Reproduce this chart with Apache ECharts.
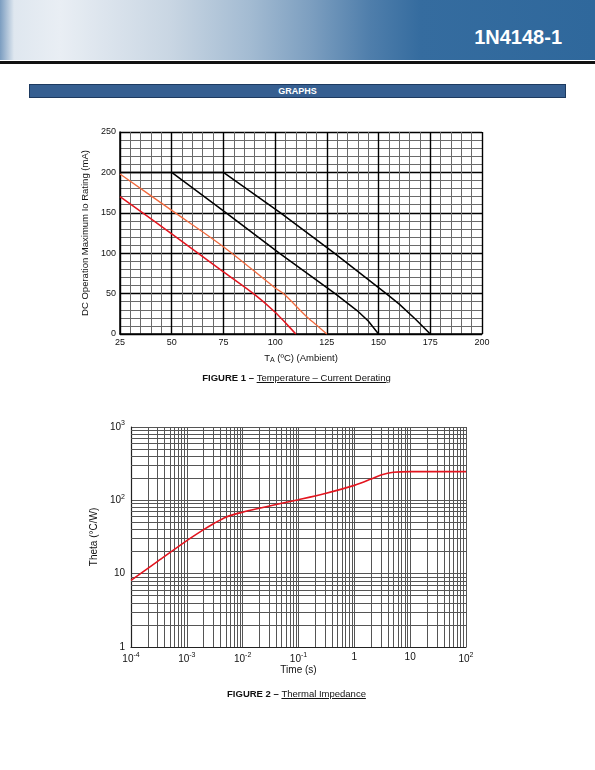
<!DOCTYPE html>
<html>
<head>
<meta charset="utf-8">
<script src="https://cdn.jsdelivr.net/npm/echarts@6/dist/echarts.min.js"></script>
<style>
  html, body { margin: 0; padding: 0; background: #fff; }
  body { width: 595px; height: 770px; position: relative; overflow: hidden;
         font-family: "Liberation Sans", Arial, sans-serif; }
  #head { position: absolute; left: 0; top: 0; width: 595px; height: 60px;
          background: linear-gradient(90deg, #7b9dc0 0px, #dfe7ef 14px, #e9eef4 60px, #c9d6e3 170px,
                      #a3bbd2 250px, #7d9fc0 310px, #4f7eab 370px, #356c9f 420px, #2f689c 595px); }
  #head .title { position: absolute; right: 33px; top: 26px; color: #fff; font-weight: bold;
                 font-size: 20px; letter-spacing: 0px; }
  #rule { position: absolute; left: 0; top: 61px; width: 595px; height: 3px; background: #111; }
  #bar { position: absolute; left: 29px; top: 84px; width: 535px; height: 12px;
         background: #365f91; border: 1px solid #1d3a60; color: #fff; font-weight: bold;
         font-size: 9px; line-height: 13px; text-align: center; }
  .cap { position: absolute; left: 0; width: 595px; text-align: center; font-size: 9.5px; color: #111; }
  .cap b { font-weight: bold; }
  .cap u { text-decoration: underline; }
  #chart { position: absolute; left: 0; top: 0; width: 595px; height: 770px; }
</style>
</head>
<body>
<div id="head"><div class="title">1N4148-1</div></div>
<div id="rule"></div>
<div id="bar">GRAPHS</div>
<div id="chart"></div>
<div class="cap" style="top:372px; left:-1px;"><b>FIGURE 1 – </b><u>Temperature – Current Derating</u></div>
<div class="cap" style="top:688px; left:-1px;"><b>FIGURE 2 – </b><u>Thermal Impedance</u></div>
<script>
// Figure 1: derating curves [T ambient, mA]
var curveA = [[25, 200], [75, 200], [102.6, 150], [128.6, 100], [153.7, 50], [160, 37], [168, 18], [175, 0]];
var curveB = [[50, 200], [76.3, 150], [102, 100], [129, 50], [139.6, 29], [145, 16], [150, 0]];
var curveOrange = [[25, 198], [50, 153], [75, 108], [100, 57], [104, 50], [115, 22], [120, 11], [125, 0]];
var curveRed = [[25, 170], [50, 124], [75, 77], [90, 49], [100, 27], [106, 11], [110, 0]];

// Figure 2: thermal impedance [time s, theta C/W]
var thetaTime = [1e-4, 3e-4, 1e-3, 2e-3, 3e-3, 5e-3, 1e-2, 2e-2, 5e-2, 1e-1, 3e-1, 1, 2, 3, 5, 10, 100];
var thetaVal = [8.1, 14.7, 28.2, 39.8, 48, 59, 69, 78, 91, 102, 124, 160, 195, 221, 241, 246, 246];

// log grid helpers
var xDecades = [1e-4, 1e-3, 1e-2, 1e-1, 1, 10];
var yDecades = [1, 10, 100];
var minorSteps = [2, 3, 4, 5, 6, 7, 8, 9];
var xRange = [1e-4, 100];
var yRange = [1, 1000];

var FONT = '"Liberation Sans", Arial, sans-serif';

// minor gridlines of the log plot, as segments in data space
function minorGrid() {
  var out = [];
  xDecades.forEach(function (d) {
    minorSteps.forEach(function (m) {
      var v = +(d * m).toPrecision(6);
      out.push({ coords: [[v, yRange[0]], [v, yRange[1]]] });
    });
  });
  yDecades.forEach(function (d) {
    minorSteps.forEach(function (m) {
      var v = d * m;
      out.push({ coords: [[xRange[0], v], [xRange[1], v]] });
    });
  });
  return out;
}

function logLabel(v) {
  var e = Math.round(Math.log10(v));
  if (e === 0) return '1';
  if (e === 1) return '10';
  return '10{sup|' + e + '}';
}

var chart = echarts.init(document.getElementById('chart'), null, { renderer: 'canvas' });

chart.setOption({
  animation: false,
  backgroundColor: 'transparent',
  grid: [
    { left: 120, top: 132, width: 362, height: 202, containLabel: false },
    { left: 131, top: 427, width: 335, height: 220, containLabel: false }
  ],
  xAxis: [
    {
      gridIndex: 0, type: 'value', min: 25, max: 200, interval: 25,
      name: 'T{sub|A} (ºC) (Ambient)', nameLocation: 'middle', nameGap: 18,
      nameTextStyle: { fontFamily: FONT, fontSize: 9.5, color: '#111',
        rich: { sub: { fontSize: 7, fontFamily: FONT, color: '#111', padding: [5, 0, 0, 0] } } },
      axisLine: { show: true, lineStyle: { color: '#000', width: 1.5 } },
      axisTick: { show: false },
      axisLabel: { fontFamily: FONT, fontSize: 9, color: '#111', margin: 4 },
      splitLine: { show: true, lineStyle: { color: '#000', width: 1.4 } },
      minorTick: { show: false, splitNumber: 5 },
      minorSplitLine: { show: true, lineStyle: { color: '#6a6a6a', width: 1 } }
    },
    {
      gridIndex: 1, type: 'log', logBase: 10, min: xRange[0], max: xRange[1],
      name: 'Time (s)', nameLocation: 'middle', nameGap: 18,
      nameTextStyle: { fontFamily: FONT, fontSize: 10, color: '#111' },
      axisLine: { show: true, lineStyle: { color: '#222', width: 1.2 } },
      axisTick: { show: false },
      axisLabel: {
        fontFamily: FONT, fontSize: 10, color: '#111', margin: 5,
        formatter: logLabel,
        rich: { sup: { fontSize: 7, fontFamily: FONT, color: '#111', padding: [0, 0, 7, 0] } }
      },
      splitLine: { show: true, lineStyle: { color: '#555', width: 1 } }
    }
  ],
  yAxis: [
    {
      gridIndex: 0, type: 'value', min: 0, max: 250, interval: 50,
      name: 'DC Operation Maximum Io Rating (mA)', nameLocation: 'middle', nameGap: 27,
      nameTextStyle: { fontFamily: FONT, fontSize: 9.5, color: '#111' },
      axisLine: { show: true, lineStyle: { color: '#000', width: 1.5 } },
      axisTick: { show: false },
      axisLabel: { fontFamily: FONT, fontSize: 9, color: '#111', margin: 4 },
      splitLine: { show: true, lineStyle: { color: '#000', width: 1.4 } },
      minorTick: { show: false, splitNumber: 5 },
      minorSplitLine: { show: true, lineStyle: { color: '#6a6a6a', width: 1 } }
    },
    {
      gridIndex: 1, type: 'log', logBase: 10, min: yRange[0], max: yRange[1],
      name: 'Theta (°C/W)', nameLocation: 'middle', nameGap: 29,
      nameTextStyle: { fontFamily: FONT, fontSize: 10, color: '#111' },
      axisLine: { show: true, lineStyle: { color: '#222', width: 1.2 } },
      axisTick: { show: false },
      axisLabel: {
        fontFamily: FONT, fontSize: 10, color: '#111', margin: 6,
        formatter: logLabel,
        rich: { sup: { fontSize: 7, fontFamily: FONT, color: '#111', padding: [0, 0, 7, 0] } }
      },
      splitLine: { show: true, lineStyle: { color: '#555', width: 1 } }
    }
  ],
  series: [
    {
      type: 'lines', coordinateSystem: 'cartesian2d', xAxisIndex: 1, yAxisIndex: 1,
      silent: true, polyline: false, z: 1,
      lineStyle: { color: '#555', width: 1, opacity: 1 },
      data: minorGrid()
    },
    { type: 'line', xAxisIndex: 0, yAxisIndex: 0, data: curveA, symbol: 'none',
      lineStyle: { color: '#000', width: 1.5 }, z: 5 },
    { type: 'line', xAxisIndex: 0, yAxisIndex: 0, data: curveB, symbol: 'none',
      lineStyle: { color: '#000', width: 1.5 }, z: 5 },
    { type: 'line', xAxisIndex: 0, yAxisIndex: 0, data: curveOrange, symbol: 'none',
      smooth: 0.3, lineStyle: { color: '#f26a3d', width: 1.3 }, z: 5 },
    { type: 'line', xAxisIndex: 0, yAxisIndex: 0, data: curveRed, symbol: 'none',
      smooth: 0.3, lineStyle: { color: '#e3151f', width: 1.5 }, z: 5 },
    { type: 'line', xAxisIndex: 1, yAxisIndex: 1, symbol: 'none', smooth: 0.3,
      data: thetaTime.map(function (t, i) { return [t, thetaVal[i]]; }),
      lineStyle: { color: '#e3151f', width: 1.6 }, z: 5 }
  ]
});
</script>
</body>
</html>
